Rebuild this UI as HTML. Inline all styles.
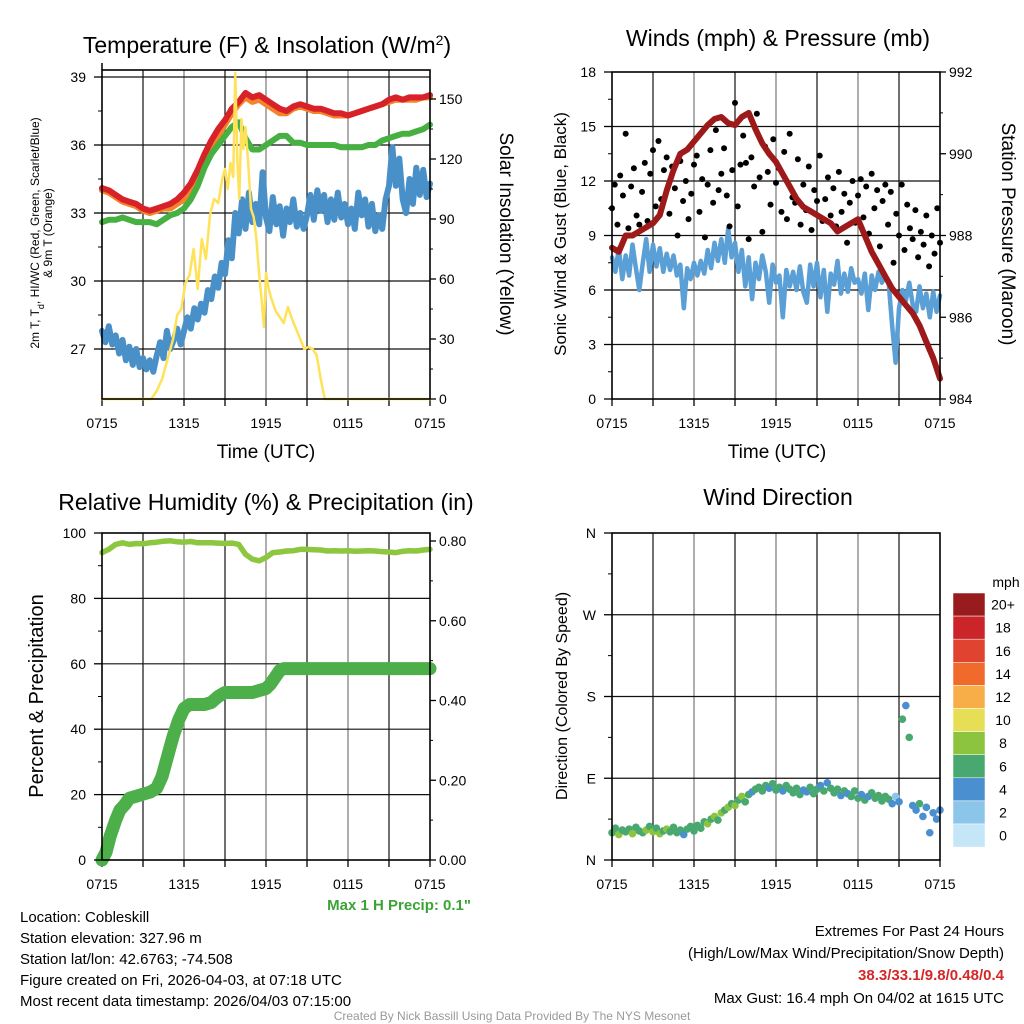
<!DOCTYPE html>
<html><head><meta charset="utf-8">
<style>
html,body{margin:0;padding:0;background:#fff;}
svg{display:block;font-family:"Liberation Sans",sans-serif;}
</style></head>
<body>
<svg id="chart" width="1024" height="1024" viewBox="0 0 1024 1024" xmlns="http://www.w3.org/2000/svg">
<rect width="1024" height="1024" fill="#fff"/>
<!-- titles -->
<text x="267" y="53" font-size="23" text-anchor="middle">Temperature (F) &amp; Insolation (W/m<tspan baseline-shift="super" font-size="14">2</tspan>)</text>
<text x="778" y="46" font-size="23" text-anchor="middle">Winds (mph) &amp; Pressure (mb)</text>
<text x="266" y="510" font-size="23" text-anchor="middle">Relative Humidity (%) &amp; Precipitation (in)</text>
<text x="778" y="505" font-size="23" text-anchor="middle">Wind Direction</text>
<!-- axis titles -->
<text transform="translate(39,233) rotate(-90)" font-size="12" text-anchor="middle">2m T, T<tspan baseline-shift="sub" font-size="9">d</tspan>, HI/WC (Red, Green, Scarlet/Blue)</text>
<text transform="translate(52,233) rotate(-90)" font-size="12" text-anchor="middle">&amp; 9m T (Orange)</text>
<text transform="translate(500,234) rotate(90)" font-size="19" text-anchor="middle">Solar Insolation (Yellow)</text>
<text x="266" y="458" font-size="19" text-anchor="middle">Time (UTC)</text>
<text transform="translate(566,234) rotate(-90)" font-size="17" text-anchor="middle">Sonic Wind &amp; Gust (Blue, Black)</text>
<text transform="translate(1002,234) rotate(90)" font-size="19" text-anchor="middle">Station Pressure (Maroon)</text>
<text x="777" y="458" font-size="19" text-anchor="middle">Time (UTC)</text>
<text transform="translate(43,696) rotate(-90)" font-size="20" text-anchor="middle">Percent &amp; Precipitation</text>
<text transform="translate(567,696) rotate(-90)" font-size="16" text-anchor="middle">Direction (Colored By Speed)</text>
<text x="471" y="910" font-size="15" font-weight="bold" fill="#3aa335" text-anchor="end">Max 1 H Precip: 0.1"</text>
<!-- footer text -->
<g font-size="15">
<text x="20" y="922">Location: Cobleskill</text>
<text x="20" y="943">Station elevation: 327.96 m</text>
<text x="20" y="964">Station lat/lon: 42.6763; -74.508</text>
<text x="20" y="985">Figure created on Fri, 2026-04-03, at 07:18 UTC</text>
<text x="20" y="1006">Most recent data timestamp: 2026/04/03 07:15:00</text>
</g>
<g font-size="15" text-anchor="end">
<text x="1004" y="936">Extremes For Past 24 Hours</text>
<text x="1004" y="958">(High/Low/Max Wind/Precipitation/Snow Depth)</text>
<text x="1004" y="980" fill="#d62728" font-weight="bold">38.3/33.1/9.8/0.48/0.4</text>
<text x="1004" y="1003">Max Gust: 16.4 mph On 04/02 at 1615 UTC</text>
</g>
<text x="512" y="1020" font-size="12" fill="#999" text-anchor="middle">Created By Nick Bassill Using Data Provided By The NYS Mesonet</text>
<g id="layer"></g>
</svg>
<script>
// ---------- data ----------
const xTickLabels = ["0715","1315","1915","0115","0715"];
const hours49 = [0,0.5,1,1.5,2,2.5,3,3.5,4,4.5,5,5.5,6,6.5,7,7.5,8,8.5,9,9.5,10,10.5,11,11.5,12,12.5,13,13.5,14,14.5,15,15.5,16,16.5,17,17.5,18,18.5,19,19.5,20,20.5,21,21.5,22,22.5,23,23.5,24];
const temp2m = [34.1,34.0,33.8,33.6,33.5,33.4,33.2,33.1,33.2,33.3,33.4,33.6,33.9,34.3,34.9,35.6,36.2,36.7,37.1,37.6,37.9,38.3,38.1,38.2,38.0,37.8,37.6,37.5,37.7,37.8,37.7,37.6,37.6,37.5,37.4,37.4,37.3,37.4,37.5,37.6,37.7,37.8,38.0,38.1,38.0,38.1,38.1,38.1,38.2];
const temp9m = [34.0,33.9,33.7,33.5,33.4,33.3,33.1,33.0,33.1,33.2,33.2,33.4,33.6,34.0,34.6,35.3,35.9,36.4,36.9,37.4,37.8,38.1,37.9,38.0,37.8,37.6,37.4,37.4,37.6,37.7,37.6,37.5,37.5,37.4,37.3,37.3,37.3,37.4,37.5,37.6,37.7,37.8,37.9,38.0,38.0,38.0,38.0,38.1,38.1];
const windChill = [32.6,32.7,32.7,32.8,32.7,32.6,32.6,32.6,32.5,32.7,32.9,33.0,33.2,33.6,34.2,35.0,35.6,36.0,36.4,36.8,37.0,36.3,35.8,35.8,36.0,36.2,36.4,36.4,36.1,36.1,36.0,36.0,36.0,36.0,36.0,35.9,35.9,35.9,35.9,36.0,36.0,36.2,36.3,36.4,36.5,36.5,36.6,36.7,36.9];
const dewPoint = [27.8,27.3,28.0,27.2,27.6, 26.8,27.4,26.5,27.1, 26.3,27.0,26.2,26.6, 26.1,26.5,26.0,26.7, 27.3,26.6,27.8,27.0, 27.4,27.9,27.2,27.8, 28.4,27.9,28.8,28.3, 29.0,28.6,29.6,29.2, 30.2,29.7,30.8,30.3, 31.8,31.0,33.0,32.1, 33.6,32.3,33.9,32.6, 33.4,32.5,34.8,32.8, 32.2,33.7,32.5,33.3, 32.0,33.2,32.6,33.6, 32.4,33.0,32.3,32.9, 33.8,32.7,34.0,33.1, 33.8,32.6,33.6,32.7, 33.9,32.8,33.4,32.5, 33.2,32.3,33.9,32.9, 33.6,32.4,33.4,32.2, 32.9,32.3,33.6,34.2, 35.9,34.2,35.4,33.6, 33.0,34.5,33.4,35.0, 33.8,34.9,33.7,34.3];
const solarTimes = [0,3.6,4.0,4.4,4.8,5.2,5.5,5.8,6.1,6.4,6.7,7.0,7.3,7.6,7.9,8.2,8.5,8.8,9.0,9.2,9.4,9.6,9.75,9.9,10.05,10.2,10.35,10.5,10.7,10.9,11.1,11.3,11.5,11.7,11.85,12.0,12.2,12.4,12.7,13.0,13.3,13.6,13.9,14.2,14.5,14.8,15.1,15.4,15.7,16.0,16.3,24];
const solar = [0,0,4,10,20,30,42,45,58,62,75,55,80,70,92,100,98,110,115,105,118,111,163,120,100,140,125,136,118,95,91,80,62,48,36,63,55,50,44,41,38,46,40,35,30,25,26,25,22,10,0,0];
const sonicWind = [7.8,7.0,8.3,6.6,7.9, 6.8,8.5,7.2,6.0, 7.5,8.8,7.0,8.5, 7.3,8.3,7.0,8.0, 7.1,7.9,6.8,7.4, 5.0,7.2,6.6,7.5, 6.8,7.6,6.9,8.2, 7.2,8.6,7.6,8.8, 7.5,9.4,7.8,8.6, 7.0,8.2,6.2,7.8, 5.5,7.5,6.6,7.9, 7.0,5.3,7.4,6.4, 6.8,4.5,7.1,6.2, 7.0,6.0,7.3,5.9, 5.3,7.4,6.2,7.5, 5.6,7.1,4.8,6.9, 6.3,7.6,5.8,6.9, 5.9,7.2,6.4,6.6, 5.8,6.9,4.9,6.8, 6.0,7.0,6.4,6.8, 6.3,4.0,2.0,5.0, 6.0,5.4,6.4,5.2, 4.8,6.2,5.0,5.8, 4.5,5.9,4.8,5.7];
const gusts = [10.5,11.8,9.6,12.3,11.2,14.6,9.4,11.7,12.7,10.1,9.6, 11.4,13.0,9.8,12.4,13.7,10.6,14.2,11.0,12.6,13.3, 10.2,12.8,11.6,9.0,13.1,10.9,12.0,9.9,11.3,12.9, 13.4,10.3,12.1,8.9,11.8,13.7,10.8,14.8,11.5,12.4, 13.8,11.2,9.5,12.6,16.3,10.6,12.9,14.5,13.0,8.8, 13.3,11.7,15.7,12.2,9.2,13.9,12.5,10.7,14.3,11.9, 12.7,10.3,13.6,9.9,14.6,11.1,10.8,13.2,9.6,11.8, 10.4,12.8,9.3,11.5,10.9,13.4,9.8,11.0,12.2,10.1, 11.6,9.5,12.5,10.3,11.3,8.6,10.8,12.0,9.7,11.2, 12.1,10.0,11.7,9.1,12.4,10.5,11.5,8.4,10.9,11.8, 9.6,11.4,7.5,10.2,9.0,11.8,8.2,10.7,9.4,8.8, 10.4,7.8,9.2,8.5,10.1,7.3,9.0,8.0,10.5,8.6];
const pressure = [987.7,987.6,988.0,988.0,988.1,988.2,988.3,988.5,989.1,989.6,990.0,990.1,990.3,990.5,990.7,990.85,990.9,990.75,990.7,990.9,991.0,990.6,990.25,990.0,989.8,989.5,989.2,988.9,988.7,988.6,988.5,988.4,988.3,988.1,988.2,988.3,988.4,988.0,987.6,987.3,987.0,986.7,986.5,986.3,986.1,985.8,985.4,985.0,984.5];
const humidity = [94,95,96.5,97,96.5,96.8,96.7,97,97.2,97.5,97.6,97.3,97.2,97.4,97,97,97,96.9,96.8,96.9,96.5,93.5,92,91.5,92.5,94,94.2,94.5,94.6,95,95,94.9,94.8,94.5,94.6,94.5,94.6,94.4,94.5,94.6,94.5,94.3,94.2,94,94.4,94.6,94.5,94.8,95];
const precipTimes = [0,0.3,0.6,1.0,1.3,1.7,2.0,2.5,3.0,3.5,4.0,4.4,4.8,5.2,5.6,6.0,6.4,7.0,7.5,8.0,8.5,9.0,10.0,11.0,11.5,12.0,12.3,12.7,13.0,13.3,24];
const precip = [0,0.02,0.06,0.1,0.125,0.14,0.155,0.16,0.165,0.17,0.18,0.21,0.26,0.31,0.35,0.38,0.39,0.39,0.39,0.395,0.41,0.42,0.42,0.42,0.425,0.43,0.44,0.46,0.475,0.48,0.48];
const windDir = [30,35,28,33,31, 34,29,36,32, 30,33,37,31, 35,29,32,34, 31,36,30,33, 28,34,37,32, 38,35,42,40, 45,48,44,52, 55,58,62,60, 66,70,64,72, 75,78,80,76, 82,79,84,77, 80,76,82,78, 74,79,72,77, 75,80,73,78, 82,76,85,79, 74,78,71,76, 73,70,76,68, 72,66,70,74, 68,71,65,70, 67,62,70,64, 155,170,135,60, 55,62,48,58, 30,52,45,55];
const speedBins = [0,2,4,6,8,10,12,14,16,18,20];
const speedLabels = ["0","2","4","6","8","10","12","14","16","18","20+"];
const speedColors = ["#c4e6f7","#8cc5ea","#4a8fcf","#48a870","#8cc43f","#e6df55","#f8ae48","#f06a2c","#e0432f","#cc2529","#981c1e"];

// ---------- helpers ----------
const NS="http://www.w3.org/2000/svg";
const layer=document.getElementById('layer');
function mk(tag,attrs,parent){const e=document.createElementNS(NS,tag);for(const k in attrs)e.setAttribute(k,attrs[k]);(parent||layer).appendChild(e);return e;}
function lin(d0,d1,r0,r1){return v=>r0+(v-d0)*(r1-r0)/(d1-d0);}
function pathFrom(xs,ys,fx,fy){let d='';for(let i=0;i<xs.length;i++){d+=(i?'L':'M')+fx(xs[i]).toFixed(1)+','+fy(ys[i]).toFixed(1);}return d;}
const q15 = dewPoint.map((_,i)=>i*0.25);
const gustTimes = gusts.map((_,i)=>i*0.2);

function frame(P,name,hGridVals,fy){
  const g=mk('g',{});
  
  
  const fx=lin(0,24,P.x0,P.x1);
  for(let h=3;h<24;h+=3){
    const l=mk('line',{x1:fx(h),x2:fx(h),y1:P.y0,y2:P.y1,stroke:(h%6===0)?'#777':'#111','stroke-width':1.2},g);
    
    
  }
  hGridVals.forEach(v=>{
    const l=mk('line',{x1:P.x0,x2:P.x1,y1:fy(v),y2:fy(v),stroke:'#111','stroke-width':1.2},g);
    
    
  });
  for(let h=0;h<=24;h+=3){
    mk('line',{x1:fx(h),x2:fx(h),y1:P.y1,y2:P.y1+7,stroke:'#000','stroke-width':1.3},g);
  }
  xTickLabels.forEach((t,i)=>{
    const h=i*6;
    const tx=mk('text',{x:fx(h),y:P.y1+29,'font-size':14,'text-anchor':'middle'},g);
    tx.textContent=t;
    
    
  });
  return {g,fx};
}
function border(P,name){
  const r=mk('rect',{x:P.x0,y:P.y0,width:P.x1-P.x0,height:P.y1-P.y0,fill:'none',stroke:'#000','stroke-width':1.6});
  
  
}
function yTicks(P,vals,labels,fy,side,name){
  vals.forEach((v,i)=>{
    const y=fy(v);
    const x=side==='left'?P.x0:P.x1;
    mk('line',{x1:x,x2:side==='left'?x-8:x+6,y1:y,y2:y,stroke:'#000','stroke-width':1.3});
    if(i<vals.length-1){
      const ym=(y+fy(vals[i+1]))/2;
      mk('line',{x1:x,x2:side==='left'?x-4:x+3,y1:ym,y2:ym,stroke:'#000','stroke-width':1});
    }
    const t=mk('text',{x:side==='left'?x-16:x+9,y:y+5,'font-size':14,'text-anchor':side==='left'?'end':'start'});
    t.textContent=labels[i];
    
    
  });
}
function line(xs,ys,fx,fy,color,w,name){
  const p=mk('path',{d:pathFrom(xs,ys,fx,fy),fill:'none',stroke:color,'stroke-width':w,'stroke-linejoin':'round','stroke-linecap':'round'});
  
  
}

// ---------- panel 1 ----------
const P1={x0:102,x1:430,y0:70,y1:399};
const fyT=lin(39,27,77,349);
const fyS=lin(0,150,399,99);
const f1=frame(P1,'temperature',[27,30,33,36,39],fyT);
mk('line',{x1:P1.x0,x2:P1.x0,y1:63,y2:70,stroke:'#000','stroke-width':1.5});
line(hours49,temp9m,f1.fx,fyT,'#f5832a',6,'temp-9m-line');
line(hours49,temp2m,f1.fx,fyT,'#d62228',6,'temp-2m-line');
line(hours49,windChill,f1.fx,fyT,'#46b040',6,'wind-chill-line');
line(q15,dewPoint,f1.fx,fyT,'#4a90c8',6,'dew-point-line');
line(solarTimes,solar,f1.fx,fyS,'#ffe259',2.5,'solar-line');
border(P1,'temperature');
yTicks(P1,[27,30,33,36,39],["27","30","33","36","39"],fyT,'left','temp');
yTicks(P1,[0,30,60,90,120,150],["0","30","60","90","120","150"],fyS,'right','solar');

// ---------- panel 2 ----------
const P2={x0:612,x1:940,y0:72,y1:399};
const fyW=lin(0,18,399,72);
const fyP=lin(984,992,399,72);
const f2=frame(P2,'winds',[3,6,9,12,15],fyW);
line(q15,sonicWind,f2.fx,fyW,'#5a9fd6',4.5,'sonic-wind-line');
gusts.forEach((v,i)=>{
  const c=mk('circle',{cx:f2.fx(gustTimes[i]),cy:fyW(v),r:3,fill:'#000'});
  
  
});
line(hours49,pressure,f2.fx,fyP,'#9e1a1a',6,'pressure-line');
border(P2,'winds');
yTicks(P2,[0,3,6,9,12,15,18],["0","3","6","9","12","15","18"],fyW,'left','wind');
yTicks(P2,[984,986,988,990,992],["984","986","988","990","992"],fyP,'right','pressure');

// ---------- panel 3 ----------
const P3={x0:102,x1:430,y0:533,y1:860};
const fyH=lin(0,100,860,533);
const fyR=lin(0,0.8,860,541);
const f3=frame(P3,'humidity',[20,40,60,80],fyH);
line(hours49,humidity,f3.fx,fyH,'#8dc63f',5.5,'humidity-line');
line(precipTimes,precip,f3.fx,fyR,'#4daf4a',13,'precip-line');
border(P3,'humidity');
yTicks(P3,[0,20,40,60,80,100],["0","20","40","60","80","100"],fyH,'left','humidity');
yTicks(P3,[0,0.2,0.4,0.6,0.8],["0.00","0.20","0.40","0.60","0.80"],fyR,'right','precip');

// ---------- panel 4 ----------
const P4={x0:612,x1:940,y0:533,y1:860};
const fyD=lin(0,360,860,533);
const f4=frame(P4,'direction',[90,180,270],fyD);
function speedColor(s){let k=0;for(let i=0;i<speedBins.length;i++){if(s>=speedBins[i])k=i;}return speedColors[k];}
windDir.forEach((d,i)=>{
  const c=mk('circle',{cx:f4.fx(q15[i]),cy:fyD(d),r:3.8,fill:speedColor(sonicWind[i])});
  
  
});
border(P4,'direction');
yTicks(P4,[0,90,180,270,360],["N","E","S","W","N"],fyD,'left','direction');

// colorbar
const cb=mk('g',{});


const cbTop=593, cbH=23.1;
speedColors.forEach((c,i)=>{
  const idx=speedColors.length-1-i;
  mk('rect',{x:953,y:cbTop+i*cbH,width:32,height:cbH,fill:speedColors[idx],stroke:'#fff','stroke-width':0.5},cb);
  const t=mk('text',{x:1003,y:cbTop+i*cbH+cbH/2+5,'font-size':14,'text-anchor':'middle'},cb);
  t.textContent=speedLabels[idx];
  
  
});
const mu=mk('text',{x:1006,y:587,'font-size':14,'text-anchor':'middle'},cb);
mu.textContent='mph';


</script>
</body></html>
